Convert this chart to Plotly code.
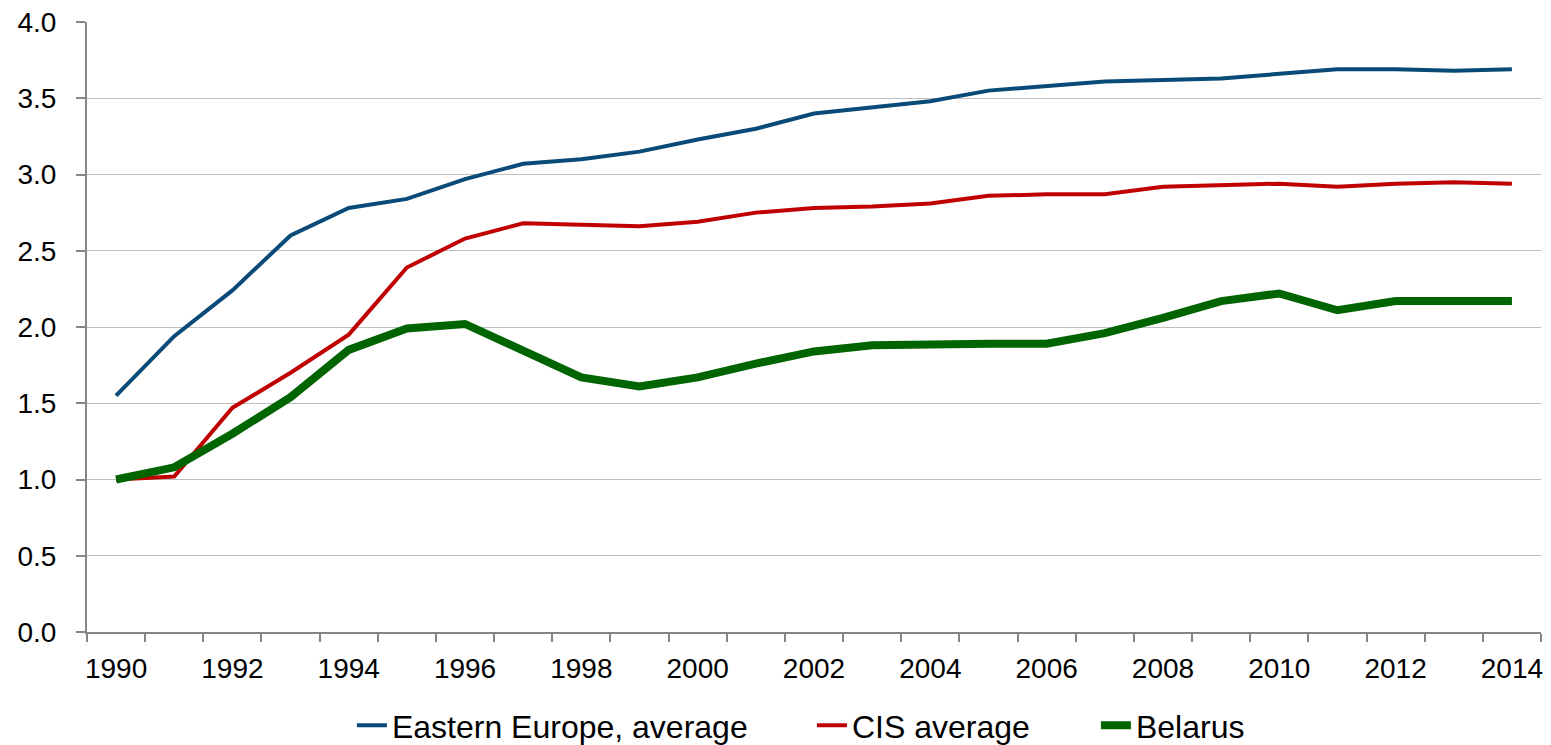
import plotly.graph_objects as go

years = list(range(1990, 2015))
eastern_europe = [1.55, 1.94, 2.24, 2.60, 2.78, 2.84, 2.97, 3.07, 3.10, 3.15, 3.23, 3.30, 3.40,
                  3.44, 3.48, 3.55, 3.58, 3.61, 3.62, 3.63, 3.66, 3.69, 3.69, 3.68, 3.69]
cis_average = [1.00, 1.02, 1.47, 1.70, 1.95, 2.39, 2.58, 2.68, 2.67, 2.66, 2.69, 2.75, 2.78,
               2.79, 2.81, 2.86, 2.87, 2.87, 2.92, 2.93, 2.94, 2.92, 2.94, 2.95, 2.94]
belarus = [1.00, 1.08, 1.30, 1.54, 1.85, 1.99, 2.02, 1.84, 1.67, 1.61, 1.67, 1.76, 1.84,
           1.88, 1.89, 1.89, 1.89, 1.96, 2.06, 2.17, 2.22, 2.11, 2.17, 2.17, 2.17]
x_tick_labels = [str(y) for y in range(1990, 2015, 2)]

fig = go.Figure()
fig.add_trace(go.Scatter(x=years, y=eastern_europe, mode="lines", name="Eastern Europe, average",
                         line=dict(color="#0a4a78", width=4), legend="legend"))
fig.add_trace(go.Scatter(x=years, y=cis_average, mode="lines", name="CIS average",
                         line=dict(color="#c00000", width=4), legend="legend2"))
fig.add_trace(go.Scatter(x=years, y=belarus, mode="lines", name="Belarus",
                         line=dict(color="#006400", width=8), legend="legend3"))

legend_style = dict(orientation="h", y=-0.153, yanchor="middle", xanchor="left",
                    font=dict(size=32), bgcolor="rgba(0,0,0,0)")

fig.update_layout(
    width=1551, height=745,
    margin=dict(l=87, r=10, t=22, b=113, autoexpand=False),
    paper_bgcolor="white", plot_bgcolor="white",
    font=dict(family="Liberation Sans, Arial, sans-serif", color="#000000"),
    showlegend=True,
    legend=dict(x=0.1822, **legend_style),
    legend2=dict(x=0.4986, **legend_style),
    legend3=dict(x=0.6939, **legend_style),
)
fig.update_xaxes(
    range=[1989.5, 2014.5],
    tickmode="array", tickvals=list(range(1990, 2015, 2)), ticktext=x_tick_labels,
    ticks="", tickfont=dict(size=28), ticklabelstandoff=10,
    showgrid=False, zeroline=False, automargin=False,
    showline=True, linecolor="#868686", linewidth=2,
    minor=dict(tickmode="array", tickvals=[y + 0.5 for y in range(1989, 2015)],
               ticks="outside", ticklen=8, tickwidth=1.5, tickcolor="#868686", showgrid=False),
)
fig.update_yaxes(
    range=[0, 4], dtick=0.5, tickformat=".1f",
    ticks="outside", ticklen=9, tickwidth=1.5, tickcolor="#868686",
    tickfont=dict(size=28), ticklabelstandoff=14, automargin=False,
    showgrid=True, gridcolor="#bfbfbf", gridwidth=1,
    zeroline=False, showline=True, linecolor="#868686", linewidth=2,
)

# remove the default 8px page margin so the 1551x745 figure fills the window exactly
fig.write_html("out.html", config={"displayModeBar": False},
               post_script="document.body.style.margin='0';document.body.style.overflow='hidden';")
